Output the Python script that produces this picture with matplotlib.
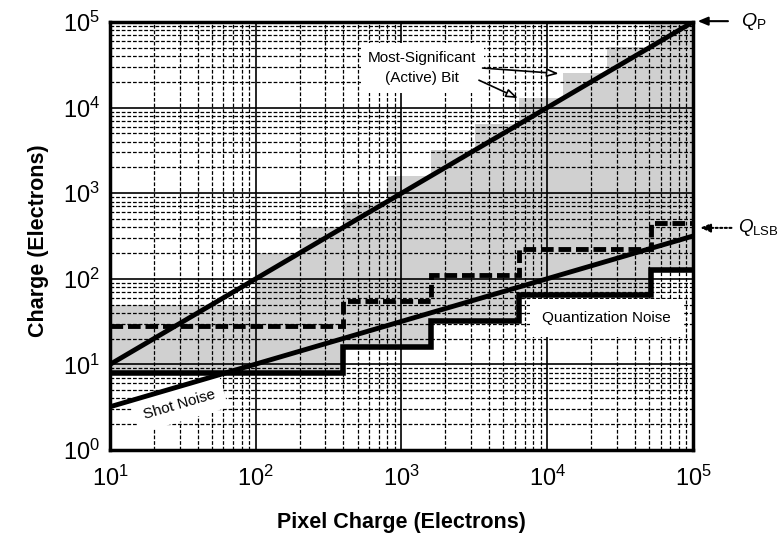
import numpy as np
import matplotlib.pyplot as plt
from matplotlib.ticker import LogLocator, NullFormatter

# Fonts: Arial-like text, math text in the same family
plt.rcParams['font.family'] = ['Liberation Sans', 'DejaVu Sans']
plt.rcParams['mathtext.fontset'] = 'custom'
plt.rcParams['mathtext.rm'] = 'Liberation Sans'
plt.rcParams['mathtext.it'] = 'Liberation Sans:italic'
plt.rcParams['mathtext.bf'] = 'Liberation Sans:bold'

# Straight references
pixel_charge = [10, 100000]
signal_charge = [10, 100000]          # Q_P
shot_noise = [3.2, 316]               # grows as square root of the charge

# ADC ranges: LSB and quantization noise in each range
range_edges = [10, 400, 1600, 6400, 51200, 100000]
q_lsb = [28, 55, 111, 222, 443]
q_noise = [8, 16, 32, 64, 128]

# Most-significant (active) bit staircase, upper edge of the grey band
msb_edges = [10, 100, 200, 400, 800, 1600, 3200, 6400, 12800, 25600,
             51200, 100000]
msb_top = [50, 200, 400, 800, 1600, 3200, 6400, 12800, 25600, 51200,
           102400]

# lower edge of the band follows the quantization noise
idx = np.searchsorted(range_edges, msb_edges[:-1], side='right') - 1
band_low = np.array(q_noise)[idx]

fig = plt.figure(figsize=(7.84, 5.37), dpi=100)
ax = fig.add_axes([0.1403, 0.162, 0.7436, 0.797])
ax.set_xscale('log')
ax.set_yscale('log')
ax.set_xlim(10, 100000)
ax.set_ylim(1, 100000)

# grey band
ax.stairs(msb_top, msb_edges, baseline=band_low, fill=True,
          color='#d0d0d0', lw=0, zorder=0.2)

# lines
ax.plot(pixel_charge, signal_charge, color='black', lw=3.5,
        solid_capstyle='butt', zorder=3)
ax.plot(pixel_charge, shot_noise, color='black', lw=3.5,
        solid_capstyle='butt', zorder=3)
ax.stairs(q_noise, range_edges, baseline=None, color='black', lw=4,
          zorder=3)
ax.stairs(q_lsb, range_edges, baseline=None, color='black', lw=3.5,
          linestyle=(0, (2.6, 1.0)), zorder=3)

# grid on every decade and every minor value
for axis in (ax.xaxis, ax.yaxis):
    axis.set_major_locator(LogLocator(base=10, numticks=10))
    axis.set_minor_locator(LogLocator(base=10, subs=np.arange(2, 10),
                                      numticks=20))
    axis.set_minor_formatter(NullFormatter())
ax.set_axisbelow(True)
ax.grid(which='major', color='black', lw=1.2, ls='-')
ax.grid(which='minor', color='black', lw=0.9, ls=(0, (3, 1.5)))

ax.tick_params(which='both', length=0, labelsize=17)
ax.tick_params(axis='x', pad=11)
ax.tick_params(axis='y', pad=7)
for sp in ax.spines.values():
    sp.set_linewidth(2.5)

ax.set_xlabel('Pixel Charge (Electrons)', fontsize=15.5, fontweight='bold')
ax.set_ylabel('Charge (Electrons)', fontsize=15.5, fontweight='bold')
ax.xaxis.set_label_coords(0.5, -0.145)
ax.yaxis.set_label_coords(-0.105, 0.49)

# labels in white boxes
ax.text(25500, 34.8, 'Quantization Noise', fontsize=11, ha='center',
        va='center', zorder=2.8,
        bbox=dict(boxstyle='square,pad=0.8', fc='white', ec='none'))
ax.text(30, 3.36, 'Shot Noise', fontsize=11, ha='center', va='center',
        rotation=16.4, zorder=2.8,
        bbox=dict(boxstyle='square,pad=0.6', fc='white', ec='none'))
ax.text(1390, 29000, 'Most-Significant\n(Active) Bit', fontsize=11,
        ha='center', va='center', linespacing=1.6, zorder=2.8,
        bbox=dict(boxstyle='square,pad=0.5', fc='white', ec='none'))

# arrows from the MSB label to the steps
msb_arrow = dict(arrowstyle='-|>,head_length=0.7,head_width=0.25',
                 fc='white', ec='black', lw=1.2, shrinkA=0, shrinkB=0)
ax.annotate('', xy=(12000, 25000), xytext=(3600, 29000),
            arrowprops=msb_arrow, zorder=4)
ax.annotate('', xy=(6300, 12900), xytext=(3400, 20900),
            arrowprops=msb_arrow, zorder=4)

# Q_P and Q_LSB markers outside the axes
ax.annotate('', xy=(1.008, 1.002), xycoords='axes fraction',
            xytext=(1.06, 1.002),
            arrowprops=dict(arrowstyle='-|>,head_length=0.6,head_width=0.25',
                            color='black', lw=1.5, shrinkA=0, shrinkB=0),
            annotation_clip=False)
ax.text(1.083, 1.002, r'$Q_{\mathrm{P}}$', transform=ax.transAxes,
        fontsize=14, ha='left', va='center')
ax.annotate('', xy=(1.012, 0.519), xycoords='axes fraction',
            xytext=(1.066, 0.519),
            arrowprops=dict(arrowstyle='-|>,head_length=0.6,head_width=0.25',
                            color='black', lw=1.5, ls=(0, (1, 1.2)),
                            shrinkA=0, shrinkB=0),
            annotation_clip=False)
ax.text(1.078, 0.519, r'$Q_{\mathrm{LSB}}$', transform=ax.transAxes,
        fontsize=13.5, ha='left', va='center')

fig.savefig('out.png', dpi=100)
